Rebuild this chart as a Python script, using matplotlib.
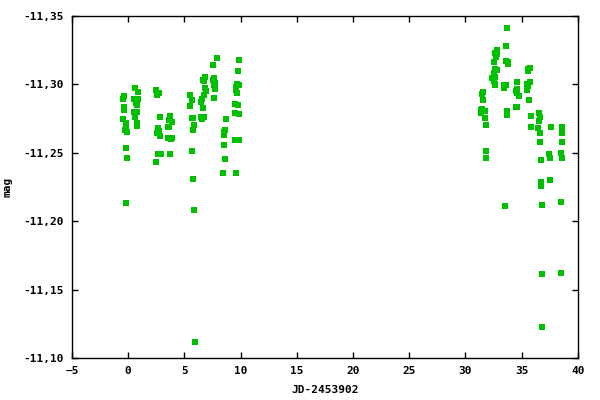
import matplotlib
matplotlib.use("Agg")
import matplotlib.pyplot as plt
from matplotlib.ticker import FuncFormatter

# Light curve readings (JD-2453902, mag)
jd = [
    -0.35, -0.44, -0.35, -0.35, -0.44, -0.17, -0.17, -0.26, -0.09, -0.17, -0.09, -0.17,
    0.62, 0.89, 0.53, 0.89, 0.80, 0.71, 0.80, 0.53, 0.80, 0.62, 0.80, 0.80,
    2.48, 2.75, 2.57, 2.83, 3.72, 3.63, 3.90, 3.54, 3.63, 2.66, 2.57, 2.75, 2.83,
    3.54, 3.81, 3.90, 2.66, 2.92, 3.72, 2.48,
    5.49, 5.67, 5.49, 5.67, 5.75, 5.84, 5.75, 5.67, 5.75, 5.84, 5.93,
    6.64, 6.82, 6.73, 6.82, 6.90, 6.73, 6.55, 6.46, 6.64, 6.46, 6.73, 6.55,
    7.88, 7.52, 7.61, 7.52, 7.70, 7.61, 7.70, 7.61,
    8.67, 8.58, 8.49, 8.49, 8.49, 8.58, 8.40,
    9.82, 9.73, 9.64, 9.82, 9.55, 9.55, 9.64, 9.47, 9.73, 9.47, 9.82, 9.47, 9.82, 9.55,
    33.66, 33.57, 32.77, 32.59, 32.77, 32.68, 32.50, 33.57, 33.75, 33.75,
    32.59, 32.77, 32.50, 32.50, 32.41, 32.59, 32.50, 32.59, 32.59, 33.40, 33.57, 33.40,
    34.56, 34.56, 34.47, 34.56, 34.73,
    31.52, 31.61, 31.61, 31.43, 31.52, 31.70, 31.43, 31.70, 31.79, 31.79, 31.79,
    33.66, 33.66, 34.47, 34.56,
    35.54, 35.72, 35.54, 35.72, 35.45, 35.54, 35.45, 35.63, 35.81, 35.81,
    36.52, 36.61, 36.52, 36.43, 36.61, 36.61, 36.70, 36.70, 36.70, 36.79, 36.79, 36.79,
    33.48, 37.59, 37.41, 37.50, 37.50,
    38.57, 38.57, 38.57, 38.48, 38.57, 38.48, 38.48,
]
mag = [
    -11.2912, -11.2890, -11.2837, -11.2810, -11.2744, -11.2715, -11.2691, -11.2664, -11.2649, -11.2532, -11.2459, -11.2130,
    -11.2971, -11.2942, -11.2890, -11.2890, -11.2868, -11.2861, -11.2846, -11.2795, -11.2795, -11.2759, -11.2715, -11.2693,
    -11.2956, -11.2934, -11.2920, -11.2759, -11.2766, -11.2737, -11.2722, -11.2686, -11.2686, -11.2678, -11.2642, -11.2656, -11.2620,
    -11.2605, -11.2598, -11.2605, -11.2488, -11.2488, -11.2488, -11.2430,
    -11.2920, -11.2883, -11.2839, -11.2752, -11.2752, -11.2700, -11.2664, -11.2510, -11.2305, -11.2079, -11.1114,
    -11.3029, -11.3051, -11.3022, -11.2971, -11.2949, -11.2920, -11.2890, -11.2868, -11.2825, -11.2759, -11.2759, -11.2744,
    -11.3190, -11.3139, -11.3044, -11.3029, -11.3007, -11.2993, -11.2964, -11.2898,
    -11.2744, -11.2664, -11.2649, -11.2627, -11.2554, -11.2452, -11.2349,
    -11.3175, -11.3095, -11.3000, -11.2993, -11.2978, -11.2956, -11.2934, -11.2854, -11.2846, -11.2788, -11.2781, -11.2591, -11.2591, -11.2349,
    -11.3410, -11.3278, -11.3249, -11.3227, -11.3220, -11.3198, -11.3162, -11.3169, -11.3162, -11.3147,
    -11.3110, -11.3103, -11.3081, -11.3052, -11.3045, -11.3052, -11.3023, -11.3001, -11.2993, -11.2993, -11.2993, -11.2972,
    -11.3015, -11.2964, -11.2950, -11.2935, -11.2913,
    -11.2928, -11.2942, -11.2884, -11.2811, -11.2818, -11.2803, -11.2789, -11.2752, -11.2701, -11.2511, -11.2460,
    -11.2803, -11.2774, -11.2833, -11.2833,
    -11.3096, -11.3118, -11.3110, -11.3015, -11.3001, -11.2986, -11.2957, -11.2884, -11.2767, -11.2686,
    -11.2789, -11.2760, -11.2730, -11.2679, -11.2643, -11.2577, -11.2445, -11.2284, -11.2258, -11.2116, -11.1612, -11.1224,
    -11.2109, -11.2686, -11.2489, -11.2460, -11.2299,
    -11.2686, -11.2643, -11.2577, -11.2496, -11.2460, -11.2138, -11.1619,
]

x_ticks = [-5, 0, 5, 10, 15, 20, 25, 30, 35, 40]
y_ticks = [-11.35, -11.30, -11.25, -11.20, -11.15, -11.10]

plt.rcParams['font.family'] = ['DejaVu Sans Mono']
plt.rcParams['font.weight'] = 'bold'
plt.rcParams['font.size'] = 8

fig = plt.figure(figsize=(6, 4), dpi=100)
ax = fig.add_axes([0.12, 0.105, 0.843, 0.855])

ax.scatter(jd, mag, marker='s', s=16, color='#00c000', linewidths=0, zorder=3)

ax.set_xlim(-5, 40)
ax.set_ylim(-11.10, -11.35)
ax.set_xticks(x_ticks)
ax.set_yticks(y_ticks)
ax.yaxis.set_major_formatter(FuncFormatter(lambda v, p: f"{v:.2f}".replace('.', ',')))
ax.tick_params(direction='in', length=4, width=1, top=True, right=True,
               labelsize=8, pad=6, colors='black')
for sp in ax.spines.values():
    sp.set_linewidth(1)

ax.set_xlabel('JD-2453902', fontsize=8, fontweight='bold', labelpad=6)
ax.set_ylabel('mag', fontsize=8, fontweight='bold')
ax.yaxis.set_label_coords(-0.118, 0.5)

fig.savefig('out.png', dpi=100)
